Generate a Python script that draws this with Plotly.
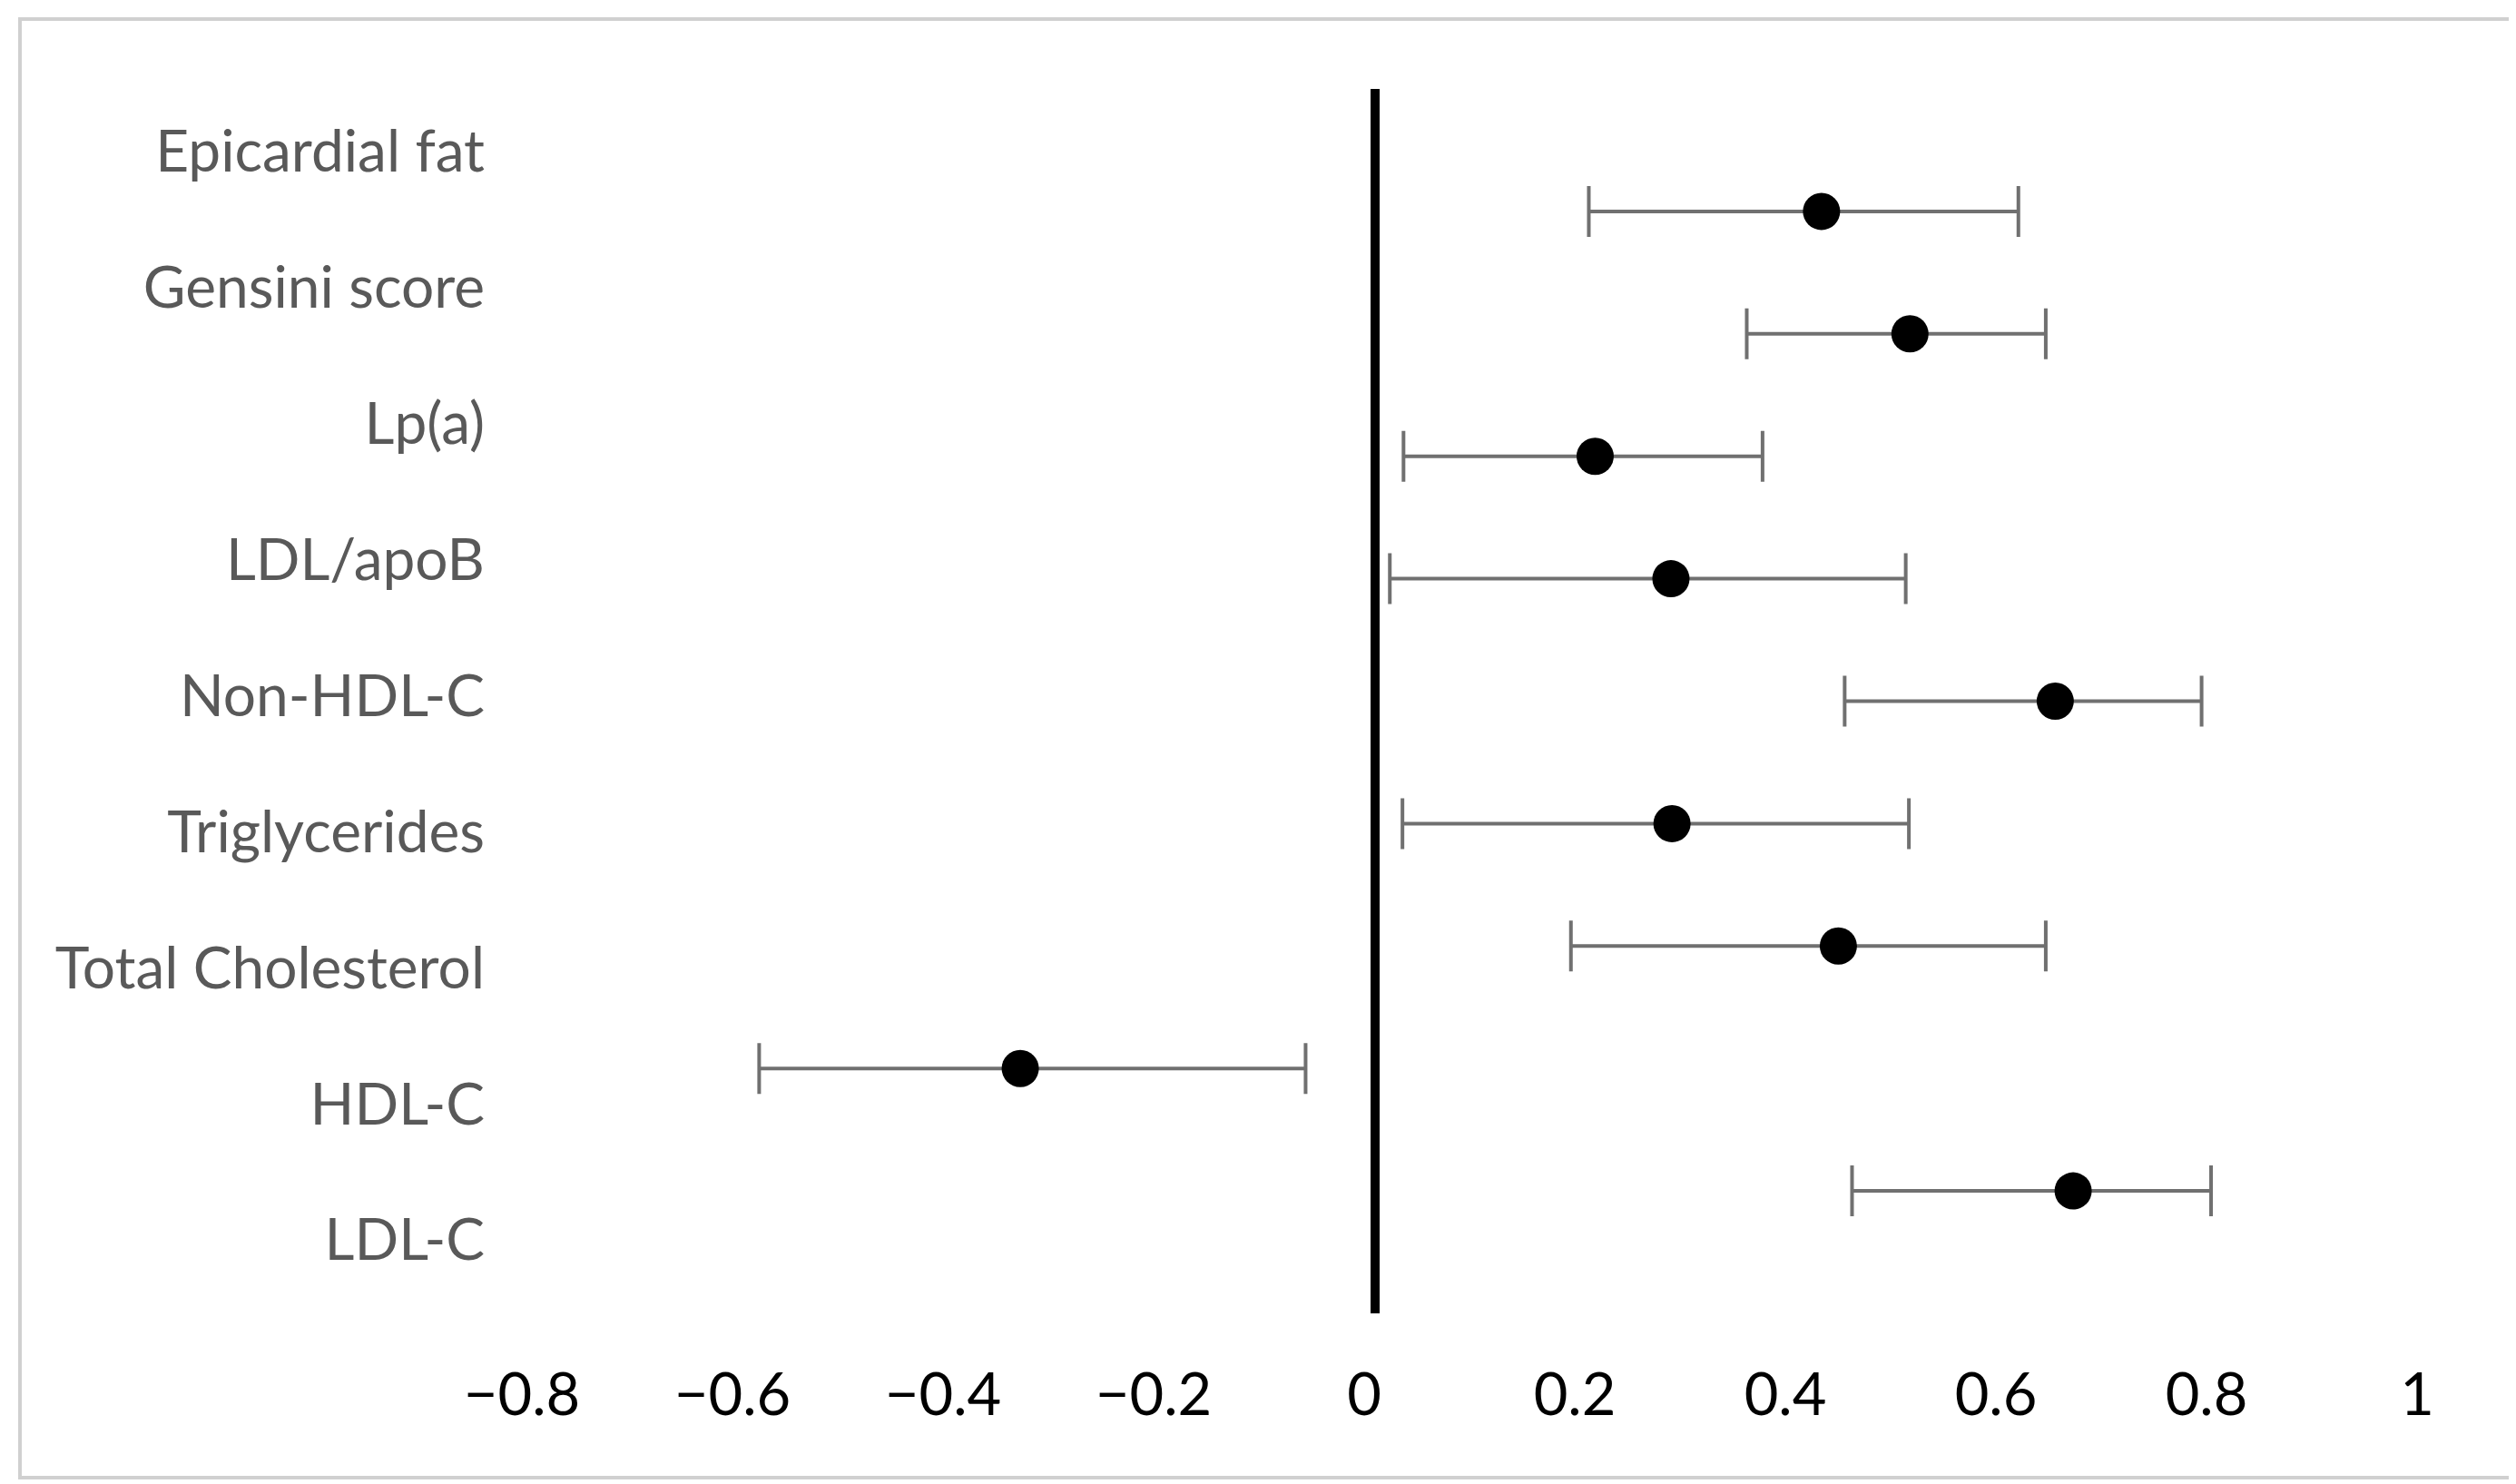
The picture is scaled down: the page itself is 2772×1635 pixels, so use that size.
import plotly.graph_objects as go

# Data
categories = ["Epicardial fat", "Gensini score", "Lp(a)", "LDL/apoB", "Non-HDL-C",
              "Triglycerides", "Total Cholesterol", "HDL-C", "LDL-C"]
estimate = [0.424, 0.508, 0.209, 0.281, 0.646, 0.282, 0.440, -0.337, 0.663]
ci_low = [0.203, 0.353, 0.027, 0.014, 0.446, 0.026, 0.186, -0.585, 0.453]
ci_high = [0.611, 0.637, 0.368, 0.504, 0.785, 0.507, 0.637, -0.066, 0.794]
x_ticks = [-0.8, -0.6, -0.4, -0.2, 0, 0.2, 0.4, 0.6, 0.8, 1]

n = len(categories)
rows = list(range(n, 0, -1))  # top to bottom
err_plus = [h - e for h, e in zip(ci_high, estimate)]
err_minus = [e - l for e, l in zip(estimate, ci_low)]

W, H = 2772, 1635
L, R, T, B = 579, 105, 90, 196
pw, ph = W - L - R, H - T - B

fig = go.Figure()
fig.add_trace(go.Scatter(
    x=estimate, y=rows, mode="markers",
    marker=dict(color="black", size=41, line=dict(width=0)),
    error_x=dict(type="data", symmetric=False, array=err_plus, arrayminus=err_minus,
                 color="#707070", thickness=4, width=28),
    showlegend=False, hoverinfo="skip",
))
# label axis carrier (no visible marks)
fig.add_trace(go.Scatter(
    x=[None] * n, y=categories, yaxis="y2", mode="markers",
    marker=dict(opacity=0), showlegend=False, hoverinfo="skip",
))

fig.update_layout(
    width=W, height=H,
    margin=dict(l=L, r=R, t=T, b=B),
    paper_bgcolor="white", plot_bgcolor="white",
    font=dict(family="Lato, Liberation Sans, sans-serif"),
    xaxis=dict(range=[-0.8, 1.0], tickvals=x_ticks,
               ticktext=[("−" if v < 0 else "") + f"{abs(v):g}" for v in x_ticks],
               showgrid=False, showline=False, ticks="",
               zeroline=True, zerolinecolor="black", zerolinewidth=10,
               tickfont=dict(size=65, color="black", family="Lato, sans-serif"),
               ticklabelstandoff=46, ticklabelshift=-12),
    yaxis=dict(range=[0, n + 1], showticklabels=False, showgrid=False,
               zeroline=False, showline=False, ticks=""),
    yaxis2=dict(overlaying="y", anchor="x", side="left", type="category",
                categoryorder="array", categoryarray=list(reversed(categories)),
                range=[-0.5, n - 0.5],
                showgrid=False, zeroline=False, showline=False, ticks="",
                tickfont=dict(size=64, color="#595959", family="Lato, sans-serif"),
                ticklabelstandoff=52, ticklabelshift=-6),
)

# outer light-gray frame
fig.add_shape(type="rect", xref="paper", yref="paper",
              x0=(14 - L) / pw, x1=(2758 - L) / pw,
              y0=(H - B - 1620) / ph, y1=(H - B - 13) / ph,
              line=dict(color="#d0d0d0", width=4), fillcolor="rgba(0,0,0,0)", layer="below")

fig.write_html("out.html")
